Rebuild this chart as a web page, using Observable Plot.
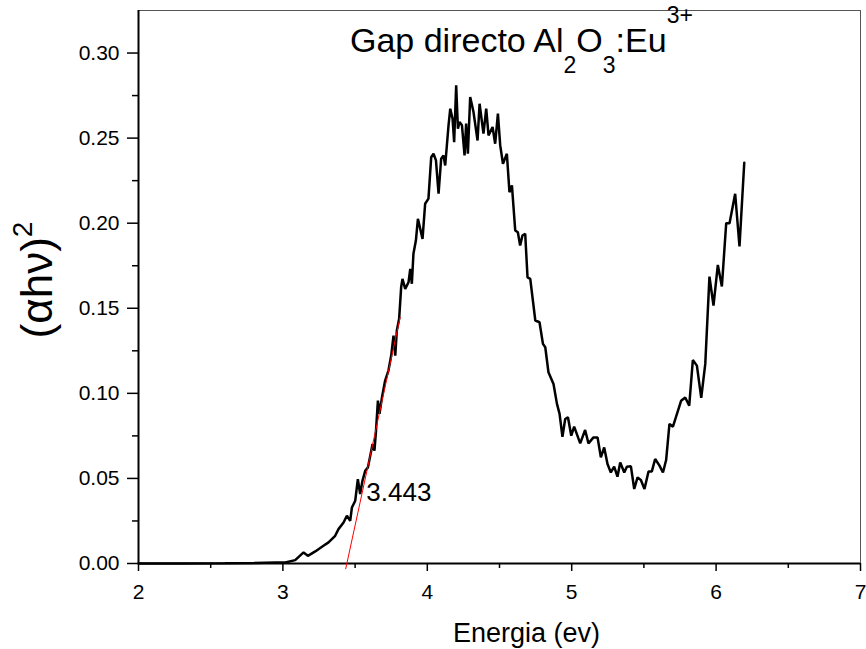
<!DOCTYPE html>
<html>
<head>
<meta charset="utf-8">
<script src="https://cdn.jsdelivr.net/npm/d3@7"></script>
<script src="https://cdn.jsdelivr.net/npm/@observablehq/plot@0.6"></script>
<style>
  html, body { margin: 0; padding: 0; background: #fff; }
  #chart { width: 866px; height: 649px; }
</style>
</head>
<body>
<div id="chart"></div>
<script>
// Data
const energy = [2.00,2.30,2.60,2.80,2.95,3.016,3.085,3.143,3.173,3.224,
  3.281,3.316,3.362,3.385,3.420,3.443,3.466,3.478,3.501,3.519,
  3.535,3.551,3.570,3.589,3.605,3.621,3.634,3.644,3.658,3.669,
  3.686,3.708,3.731,3.750,3.766,3.778,3.789,3.805,3.819,3.828,
  3.847,3.870,3.882,3.893,3.904,3.921,3.935,3.967,3.985,4.008,
  4.027,4.043,4.060,4.078,4.096,4.112,4.124,4.147,4.159,4.175,
  4.186,4.200,4.212,4.223,4.240,4.258,4.269,4.281,4.297,4.320,
  4.348,4.362,4.389,4.408,4.424,4.452,4.470,4.489,4.505,4.524,
  4.551,4.569,4.586,4.609,4.627,4.643,4.659,4.678,4.694,4.713,
  4.748,4.777,4.801,4.817,4.839,4.874,4.898,4.916,4.936,4.955,
  4.974,4.997,5.017,5.059,5.093,5.116,5.151,5.179,5.202,5.225,
  5.248,5.271,5.294,5.317,5.336,5.364,5.382,5.410,5.433,5.456,
  5.479,5.504,5.532,5.555,5.578,5.608,5.632,5.654,5.677,5.701,
  5.729,5.758,5.786,5.814,5.839,5.867,5.897,5.925,5.954,5.982,
  6.012,6.040,6.070,6.093,6.132,6.162,6.195];
const absorb = [0,0,0.0001,0.0003,0.0006,0.0006,0.002,0.0065,0.0045,0.0071,
  0.0104,0.0124,0.0163,0.0202,0.0241,0.0281,0.0251,0.0329,0.0369,0.0496,
  0.0408,0.0486,0.0545,0.0565,0.0634,0.0702,0.0663,0.0771,0.0957,0.0879,
  0.0976,0.1075,0.1134,0.1222,0.1339,0.1222,0.1369,0.1438,0.1624,0.1673,
  0.1614,0.1653,0.1732,0.1644,0.1820,0.1898,0.2026,0.1908,0.2114,0.2144,
  0.2388,0.2408,0.2369,0.2173,0.2379,0.2398,0.2339,0.2575,0.2673,0.2614,
  0.2476,0.2810,0.2555,0.2594,0.2575,0.2398,0.2585,0.2408,0.2741,0.2653,
  0.2486,0.2702,0.2526,0.2673,0.2516,0.2565,0.2467,0.2644,0.2457,0.2349,
  0.2408,0.2182,0.2222,0.1957,0.1947,0.1869,0.1928,0.1938,0.1682,0.1673,
  0.1428,0.1418,0.1291,0.1271,0.1124,0.1055,0.0938,0.0879,0.0745,0.0849,
  0.0859,0.0751,0.0804,0.0706,0.0785,0.0706,0.0741,0.0741,0.0624,0.0682,
  0.0585,0.0535,0.0569,0.0510,0.0594,0.0535,0.0569,0.0571,0.0438,0.0506,
  0.0491,0.0438,0.0541,0.0541,0.0614,0.0575,0.0535,0.0608,0.0820,0.0804,
  0.0879,0.0957,0.0976,0.0928,0.1196,0.1163,0.0973,0.1173,0.1686,0.1516,
  0.1755,0.1628,0.2000,0.2000,0.2173,0.1863,0.2355];

// Linear fit (red) endpoints
const fitEnergy = [3.435, 3.812];
const fitValue = [-0.0031, 0.1447];

// Gap annotation
const gapEnergy = 3.443;
const gapLabelY = 0.0369;
const gapLabel = "3.443";

// Ticks
const xTicks = [2, 3, 4, 5, 6, 7];
const xMinor = [2.5, 3.5, 4.5, 5.5, 6.5];
const yTicks = [0, 0.05, 0.10, 0.15, 0.20, 0.25, 0.30];
const yMinor = [0.025, 0.075, 0.125, 0.175, 0.225, 0.275];

const xLabel = "Energia (ev)";

const curve = energy.map((e, i) => ({e, v: absorb[i]}));
const fit = fitEnergy.map((e, i) => ({e, v: fitValue[i]}));

const font = "'Liberation Sans', Arial, sans-serif";

const svg = Plot.plot({
  width: 866,
  height: 649,
  marginLeft: 138,
  marginRight: 6,
  marginTop: 10,
  marginBottom: 86,
  style: {fontFamily: font, fontSize: "21px", color: "black", background: "white"},
  x: {domain: [2, 7]},
  y: {domain: [0, 0.325]},
  marks: [
    Plot.frame({stroke: "#555", strokeWidth: 1}),
    Plot.axisX({ticks: xTicks, tickSize: 8, tickPadding: 13, tickFormat: d => String(d), label: null, strokeWidth: 1.5, fontSize: 21}),
    Plot.axisX({ticks: xMinor, tickSize: 5, tickFormat: () => "", label: null, strokeWidth: 1.5}),
    Plot.axisY({ticks: yTicks, tickSize: 11, tickPadding: 8, tickFormat: d3.format(".2f"), label: null, strokeWidth: 1.5, fontSize: 21}),
    Plot.axisY({ticks: yMinor, tickSize: 6, tickFormat: () => "", label: null, strokeWidth: 1.5}),
    Plot.ruleX([2], {stroke: "black", strokeWidth: 2}),
    Plot.ruleY([0], {stroke: "black", strokeWidth: 2}),
    Plot.line(curve, {x: "e", y: "v", stroke: "black", strokeWidth: 2.5, strokeLinejoin: "miter"}),
    Plot.line(fit, {x: "e", y: "v", stroke: "red", strokeWidth: 1}),
    Plot.text([gapLabel], {x: () => gapEnergy, y: () => gapLabelY, text: d => d, dx: 19.5, textAnchor: "start", lineAnchor: "bottom", fontSize: 26, fill: "black"}),
    Plot.text([xLabel], {frameAnchor: "bottom", text: d => d, dx: 27, dy: 78, lineAnchor: "bottom", fontSize: 27, fill: "black"})
  ]
});

const s = d3.select(svg);
// Title with subscripts / superscript
const title = s.append("text")
  .attr("x", 350).attr("y", 52)
  .attr("text-anchor", "start")
  .attr("font-family", font).attr("font-size", 34).attr("fill", "black");
title.append("tspan").text("Gap directo Al");
title.append("tspan").attr("font-size", 23).attr("dy", 21).text("2");
title.append("tspan").attr("dy", -21).text("O");
title.append("tspan").attr("font-size", 23).attr("dy", 21).text("3");
title.append("tspan").attr("dy", -21).text(":Eu");
title.append("tspan").attr("font-size", 23).attr("dy", -29).text("3+");

// Y axis label (αhν)²
const ylab = s.append("text")
  .attr("transform", "translate(52,280) rotate(-90)")
  .attr("text-anchor", "middle")
  .attr("font-family", font).attr("font-size", 44).attr("fill", "black");
ylab.append("tspan").text("(αhν)");
ylab.append("tspan").attr("font-size", 28).attr("dy", -20).text("2");

document.getElementById("chart").appendChild(svg);
</script>
</body>
</html>
